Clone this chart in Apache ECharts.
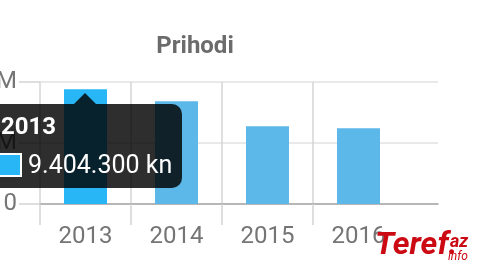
<!DOCTYPE html>
<html><head><meta charset="utf-8">
<script src="https://cdn.jsdelivr.net/npm/echarts@6/dist/echarts.min.js"></script>
<style>html,body{margin:0;padding:0;background:#fff;overflow:hidden}#c{width:490px;height:280px}</style>
</head><body><div id="c"></div>
<script>
const chartTitle = 'Prihodi';
const categories = ['2013', '2014', '2015', '2016'];
const values = [9404300, 8420000, 6370000, 6200000];
const yTickValues = [0, 5000000, 10000000];
const yTickLabels = ['0', '5M', '10M'];
const unit = 'kn';
const selectedIndex = 0;

const FONT = 'Roboto, "Noto Sans", sans-serif';
const chart = echarts.init(document.getElementById('c'), null, {renderer: 'canvas'});

function fmtNum(v) {
  return String(Math.round(v)).replace(/\B(?=(\d{3})+(?!\d))/g, '.');
}

const gTop = 82, gBottom = 76;
const gridBase = {top: gTop, bottom: gBottom, containLabel: false, outerBoundsMode: 'none'};
chart.setOption({
  animation: false,
  title: {
    text: chartTitle, left: 190, top: 30, textAlign: 'center',
    textStyle: {fontFamily: FONT, fontSize: 24, fontWeight: 'bold', color: '#6b6b6b', lineHeight: 24}
  },
  grid: [
    Object.assign({left: 40, right: 52}, gridBase),
    Object.assign({left: 40, right: 177}, gridBase),
    Object.assign({left: 40, right: 86}, gridBase)
  ],
  xAxis: [
    {gridIndex: 0, type: 'value', min: 0, max: 1,
     axisLine: {show: true, lineStyle: {color: '#a6a6a6', width: 1.5}},
     axisTick: {show: false}, axisLabel: {show: false}, splitLine: {show: false}},
    {gridIndex: 1, type: 'value', min: 0, max: 3, interval: 1,
     axisLine: {show: false},
     axisTick: {show: true, inside: false, length: 21, lineStyle: {color: '#d4d4d4', width: 1.5}},
     axisLabel: {show: false},
     splitLine: {show: true, lineStyle: {color: '#d4d4d4', width: 1.5}}},
    {gridIndex: 2, type: 'category', data: categories, boundaryGap: true,
     axisLine: {show: false}, axisTick: {show: false}, splitLine: {show: false},
     axisLabel: {fontFamily: FONT, fontSize: 24, color: '#757575', margin: 21}}
  ],
  yAxis: [
    {gridIndex: 0, type: 'value', min: 0, max: 10000000, interval: 5000000,
     axisLine: {show: false},
     axisTick: {show: true, length: 21, lineStyle: {color: '#d4d4d4', width: 1.5}},
     splitLine: {show: true, lineStyle: {color: '#e2e2e2', width: 1.5}},
     axisLabel: {fontFamily: FONT, fontSize: 24, color: '#757575', margin: 23, hideOverlap: false,
       formatter: v => { const i = yTickValues.indexOf(v); return i >= 0 ? yTickLabels[i] : ''; }}},
    {gridIndex: 1, type: 'value', min: 0, max: 1, show: false},
    {gridIndex: 2, type: 'value', min: 0, max: 10000000, show: false}
  ],
  tooltip: {
    trigger: 'item', triggerOn: 'none', alwaysShowContent: true, confine: false,
    position: [-12, 104], transitionDuration: 0,
    backgroundColor: 'transparent', borderWidth: 0, padding: 0,
    extraCssText: 'box-shadow:none;border-radius:0;',
    formatter: p => {
      const bg = 'rgba(0,0,0,0.82)';
      return '<div style="position:relative;width:194px;height:84px;box-sizing:border-box;padding:8px 13px;background:' + bg + ';border-radius:10px;font-family:' + FONT.replace(/"/g, "'") + ';color:#fff;">'
        + '<div style="position:absolute;left:86px;top:-11px;width:0;height:0;border-left:11px solid transparent;border-right:11px solid transparent;border-bottom:11px solid ' + bg + ';"></div>'
        + '<div style="font-size:24px;font-weight:bold;line-height:28px;height:28px;">' + p.name + '</div>'
        + '<div style="margin-top:10px;height:30px;line-height:30px;font-size:25px;white-space:nowrap;display:flex;align-items:center;">'
        + '<span style="display:inline-block;flex:none;width:24px;height:24px;box-sizing:border-box;border:2px solid #fff;background:#29b6f6;margin-left:-3px;margin-right:6px;"></span>'
        + fmtNum(p.value) + ' ' + unit + '</div></div>';
    }
  },
  graphic: [
    {type: 'text', left: 375, top: 230, z: 100,
     style: {text: 'Teref.', font: 'italic bold 32px Roboto', fill: '#cc0a14'}},
    {type: 'text', left: 450, top: 233, z: 100,
     style: {text: 'az', font: 'italic bold 18px Roboto', fill: '#cc0a14'}},
    {type: 'text', left: 448, top: 251, z: 100,
     style: {text: 'info', font: 'italic 12px Roboto', fill: '#cc0a14'}}
  ],
  series: [{
    type: 'bar', xAxisIndex: 2, yAxisIndex: 2, barWidth: 43,
    data: values.map((v, i) => ({value: v, itemStyle: {color: i === selectedIndex ? '#29b6f6' : '#5cb8e8'}}))
  }]
});
chart.dispatchAction({type: 'showTip', seriesIndex: 0, dataIndex: selectedIndex});
</script></body></html>
